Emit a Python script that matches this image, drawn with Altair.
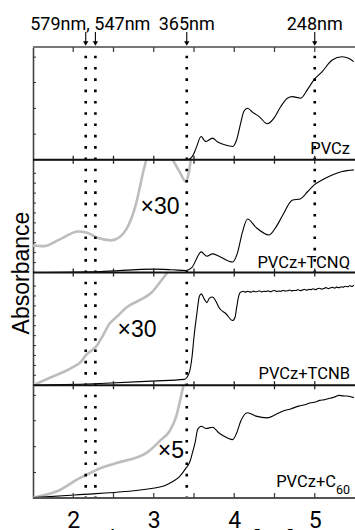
import altair as alt
import pandas as pd

# ---------------- data (photon energy in eV, absorbance normalised per panel) ----------------
pvcz_x = [1.50, 3.30, 3.42, 3.48, 3.526, 3.588, 3.63, 3.65, 3.73, 3.79, 3.89, 3.98, 4.03, 4.08, 4.12,
          4.165, 4.23, 4.31, 4.41, 4.494, 4.578, 4.66, 4.72, 4.826, 4.907, 4.99, 5.09, 5.217, 5.34, 5.42, 5.485]
pvcz_y = [0.0, 0.0, 0.0, 0.03, 0.103, 0.206, 0.17, 0.162, 0.192, 0.16, 0.13, 0.118, 0.177, 0.325, 0.43,
          0.457, 0.42, 0.383, 0.319, 0.369, 0.472, 0.546, 0.56, 0.546, 0.62, 0.708, 0.78, 0.885, 0.914, 0.9, 0.87]

tcnq_x = [1.50, 2.33, 3.01, 3.236, 3.40, 3.476, 3.526, 3.588, 3.66, 3.73, 3.81, 3.98, 4.04, 4.10, 4.165,
          4.27, 4.434, 4.516, 4.60, 4.72, 4.826, 4.907, 4.99, 5.09, 5.217, 5.34, 5.485]
tcnq_y = [0.0, 0.009, 0.03, 0.024, 0.018, 0.045, 0.114, 0.183, 0.144, 0.165, 0.144, 0.093, 0.174, 0.354, 0.475,
          0.40, 0.333, 0.40, 0.505, 0.64, 0.655, 0.714, 0.775, 0.82, 0.865, 0.895, 0.91]
# x30 curve, drawn in two pieces (it leaves the panel at the top)
tcnq30_a_x = [1.50, 1.63, 1.834, 2.06, 2.164, 2.29, 2.47, 2.577, 2.66, 2.72, 2.78, 2.824, 2.865, 2.907]
tcnq30_a_y = [0.24, 0.234, 0.294, 0.363, 0.354, 0.31, 0.285, 0.315, 0.385, 0.475, 0.61, 0.745, 0.88, 1.0]
tcnq30_b_x = [3.236, 3.32, 3.40, 3.434, 3.46]
tcnq30_b_y = [1.0, 0.895, 0.805, 0.88, 1.0]

tcnb_x = [1.50, 2.33, 2.99, 3.38, 3.44, 3.476, 3.50, 3.535, 3.567, 3.59, 3.63, 3.66, 3.69, 3.73, 3.77,
          3.81, 3.90, 3.98, 4.01, 4.03, 4.055, 4.07, 4.09, 4.11, 4.14, 4.16, 4.18, 4.21, 4.24, 4.26, 4.29,
          4.31, 4.34, 4.37, 4.39, 4.42, 4.45, 4.47, 4.50, 4.53, 4.55, 4.58, 4.61, 4.63, 4.66, 4.69, 4.71,
          4.74, 4.77, 4.79, 4.82, 4.85, 4.87, 4.90, 4.93, 4.95, 4.98, 5.01, 5.03, 5.06, 5.09, 5.11, 5.14,
          5.17, 5.19, 5.22, 5.25, 5.27, 5.30, 5.33, 5.35, 5.38, 5.41, 5.43, 5.46, 5.485]
tcnb_y = [0.0, 0.015, 0.037, 0.052, 0.11, 0.255, 0.43, 0.632, 0.79, 0.81, 0.762, 0.733, 0.771, 0.783, 0.748,
          0.69, 0.632, 0.574, 0.603, 0.69, 0.79, 0.82, 0.829, 0.834, 0.826, 0.833, 0.831, 0.825, 0.835, 0.829, 0.832,
          0.838, 0.828, 0.834, 0.831, 0.837, 0.829, 0.835, 0.84, 0.832, 0.836, 0.834, 0.843, 0.835, 0.838, 0.845, 0.837,
          0.841, 0.84, 0.849, 0.839, 0.846, 0.851, 0.843, 0.85, 0.848, 0.856, 0.847, 0.855, 0.86, 0.852, 0.858, 0.866,
          0.857, 0.862, 0.868, 0.861, 0.87, 0.866, 0.874, 0.869, 0.878, 0.873, 0.882, 0.877, 0.889]
tcnb30_x = [1.50, 1.71, 1.98, 2.10, 2.16, 2.29, 2.37, 2.45, 2.556, 2.66, 2.824, 2.97, 3.07, 3.17]
tcnb30_y = [0.0, 0.067, 0.154, 0.211, 0.27, 0.348, 0.443, 0.545, 0.617, 0.69, 0.754, 0.82, 0.907, 1.0]

c60_x = [1.50, 2.02, 2.99, 3.155, 3.236, 3.32, 3.40, 3.45, 3.48, 3.517, 3.545, 3.59, 3.65, 3.73, 3.81,
         3.917, 3.98, 4.03, 4.08, 4.165, 4.27, 4.41, 4.516, 4.60, 4.70, 4.80, 4.90, 4.95, 5.01, 5.06,
         5.12, 5.217, 5.26, 5.30, 5.35, 5.40, 5.485]
c60_y = [0.003, 0.027, 0.086, 0.116, 0.146, 0.19, 0.265, 0.324, 0.4, 0.503, 0.607, 0.637, 0.616, 0.628, 0.577,
         0.533, 0.518, 0.577, 0.681, 0.756, 0.726, 0.711, 0.741, 0.77, 0.79, 0.815, 0.832, 0.844, 0.851, 0.866,
         0.872, 0.89, 0.899, 0.91, 0.906, 0.904, 0.89]
c60x5_x = [1.50, 1.834, 2.04, 2.09, 2.164, 2.29, 2.536, 2.91, 3.03, 3.07, 3.195, 3.28, 3.34, 3.37]
c60x5_y = [0.003, 0.071, 0.16, 0.18, 0.205, 0.25, 0.31, 0.40, 0.473, 0.503, 0.592, 0.726, 0.904, 1.0]

panel_names = ["PVCz", "PVCz+TCNQ", "PVCz+TCNB", "PVCz+C"]
panel_base = [3, 2, 1, 0]            # stacking position of each panel (bottom edge)
panel_label_y = [0.053, 0.04, 0.053, 0.098]
sub_label = ["60"]
sub_label_y = [0.035]

mult_text = ["×30", "×30", "×5"]
mult_x = [3.078, 2.793, 3.214]
mult_y = [2.52, 1.43, 0.357]

x_domain = [1.5, 5.5]
y_domain = [0, 4]
x_tick_labels = [2, 3, 4, 5]
x_ticks = [2.0, 2.5, 3.0, 3.5, 4.0, 4.5, 5.0]
boundaries_inner = [1, 2, 3]
boundary_all = [0, 1, 2, 3, 4]

left_ticks = ([3.227, 3.455, 3.685, 3.91] +
              [2 + 0.088 * k for k in range(1, 11)] +
              [1 + 0.088 * k for k in range(1, 11)] +
              [0.226, 0.455, 0.685, 0.91])

line_x = [2.155, 2.275, 3.41, 5.00]     # 579 nm, 547 nm, 365 nm, 248 nm
line_top = [4, 4, 4, 4]
line_bottom = [0, 0, 0, 2]
nm_text = ["579nm, 547nm", "365nm", "248nm"]
nm_x = [2.212, 3.41, 5.00]

# ---------------- tables ----------------
def frame(xs, ys, base, seg):
    return pd.DataFrame({"x": xs, "y": [v + base for v in ys], "seg": seg})

black = pd.concat([
    frame(pvcz_x, pvcz_y, 3, "pvcz"),
    frame(tcnq_x, tcnq_y, 2, "tcnq"),
    frame(tcnb_x, tcnb_y, 1, "tcnb"),
    frame(c60_x, c60_y, 0, "c60"),
])
gray = pd.concat([
    frame(tcnq30_a_x, tcnq30_a_y, 2, "q_a"),
    frame(tcnq30_b_x, tcnq30_b_y, 2, "q_b"),
    frame(tcnb30_x, tcnb30_y, 1, "b"),
    frame(c60x5_x, c60x5_y, 0, "c"),
])

NARROW = "Roboto, sans-serif"
ARIAL = "'Liberation Sans', Arial, sans-serif"

xaxis = alt.Axis(values=x_tick_labels, format="d", ticks=False, tickSize=0, domain=False, grid=False,
                 labelFont=NARROW, labelFontSize=23, labelColor="black", labelPadding=29,
                 labelBaseline="alphabetic",
                 title="Photon Energy [eV]", titleFont=ARIAL, titleFontSize=23,
                 titleFontWeight="normal", titleColor="black", titleY=30, titleBaseline="top")
yaxis = alt.Axis(labels=False, ticks=False, tickSize=0, grid=False, domain=True,
                 domainColor="#444444", domainWidth=1.6,
                 title="Absorbance", titleFont=ARIAL, titleFontSize=23, titleFontWeight="normal",
                 titleColor="black", titlePadding=0)

xs = alt.Scale(domain=x_domain, nice=False, zero=False)
ys = alt.Scale(domain=y_domain, nice=False, zero=False)

def X(f):
    return alt.X(f, type="quantitative", scale=xs, axis=xaxis)

def Y(f):
    return alt.Y(f, type="quantitative", scale=ys, axis=yaxis)

gray_layer = alt.Chart(gray).mark_line(color="#bdbdbd", strokeWidth=2.6, interpolate="monotone").encode(
    x=X("x"), y=Y("y"), detail="seg:N")
black_layer = alt.Chart(black).mark_line(color="black", strokeWidth=1.1, interpolate="monotone").encode(
    x=X("x"), y=Y("y"), detail="seg:N")

bdf = pd.DataFrame({"b": boundary_all, "x0": [x_domain[0]] * 5, "x1": [x_domain[1]] * 5,
                    "c": ["b", "i", "i", "i", "t"]})
frame_layer = alt.Chart(bdf).mark_rule(strokeWidth=2).encode(
    x=X("x0"), x2="x1", y=Y("b"),
    color=alt.Color("c:N", scale=alt.Scale(domain=["b", "i", "t"], range=["#555555", "#111111", "#777777"]),
                    legend=None))

tick_rows = [(t, b) for b in boundaries_inner for t in x_ticks]
tdf = pd.DataFrame({"t": [r[0] for r in tick_rows], "b": [r[1] for r in tick_rows]})
inner_ticks = alt.Chart(tdf).mark_rule(color="#222222", strokeWidth=1.3, yOffset=-4, y2Offset=4).encode(
    x=X("t"), y=Y("b"), y2="b")
top_ticks = alt.Chart(pd.DataFrame({"t": x_ticks, "b": [y_domain[1]] * len(x_ticks)})).mark_rule(
    color="#444444", strokeWidth=1.3, y2Offset=5).encode(x=X("t"), y=Y("b"), y2="b")
bot_ticks = alt.Chart(pd.DataFrame({"t": x_ticks, "b": [y_domain[0]] * len(x_ticks)})).mark_rule(
    color="#444444", strokeWidth=1.3, yOffset=-5).encode(x=X("t"), y=Y("b"), y2="b")
left_tick_layer = alt.Chart(pd.DataFrame({"t": left_ticks, "x0": [x_domain[0]] * len(left_ticks)})).mark_rule(
    color="#333333", strokeWidth=1, x2Offset=3).encode(x=X("x0"), x2="x0", y=Y("t"))

ldf = pd.DataFrame({"lx": line_x, "lt": line_top, "lb": line_bottom})
dotted = alt.Chart(ldf).mark_rule(color="black", strokeWidth=2.6, strokeDash=[2.6, 8.7],
                                  strokeDashOffset=2.6, strokeCap="butt").encode(
    x=X("lx"), y=Y("lt"), y2="lb")

adf = pd.DataFrame({"lx": line_x, "lt": line_top})
arrows = alt.Chart(adf).mark_rule(color="black", strokeWidth=1.1, yOffset=-15, y2Offset=-4).encode(
    x=X("lx"), y=Y("lt"), y2="lt")
heads = alt.Chart(adf).mark_point(shape="triangle-down", filled=True, color="black", size=28,
                                  opacity=1, yOffset=-3.5).encode(x=X("lx"), y=Y("lt"))

ndf = pd.DataFrame({"nx": nm_x, "nt": nm_text, "ny": [y_domain[1]] * len(nm_x)})
nm_layer = alt.Chart(ndf).mark_text(font=NARROW, fontSize=18, align="center", baseline="alphabetic",
                                    dy=-17, color="black").encode(x=X("nx"), y=Y("ny"), text="nt:N")

pdf = pd.DataFrame({"px": [x_domain[1]] * 4, "pt": panel_names,
                    "py": [b + o for b, o in zip(panel_base, panel_label_y)]})
plabels = alt.Chart(pdf.iloc[:3]).mark_text(font=NARROW, fontSize=16.5, align="right", baseline="alphabetic",
                                            dx=-5, color="black").encode(x=X("px"), y=Y("py"), text="pt:N")
plabel_c60 = alt.Chart(pdf.iloc[3:]).mark_text(font=NARROW, fontSize=16.5, align="right", baseline="alphabetic",
                                               dx=-19, color="black").encode(x=X("px"), y=Y("py"), text="pt:N")
sdf = pd.DataFrame({"px": [x_domain[1]], "pt": sub_label, "py": [panel_base[3] + sub_label_y[0]]})
sub_layer = alt.Chart(sdf).mark_text(font=NARROW, fontSize=12.5, align="right", baseline="alphabetic",
                                     dx=-5, color="black").encode(x=X("px"), y=Y("py"), text="pt:N")

mdf = pd.DataFrame({"mx": mult_x, "my": mult_y, "mt": mult_text})
mult_layer = alt.Chart(mdf).mark_text(font=ARIAL, fontSize=23, align="center", baseline="alphabetic",
                                      color="black").encode(x=X("mx"), y=Y("my"), text="mt:N")

chart = alt.layer(
    gray_layer, black_layer, dotted, frame_layer, inner_ticks, top_ticks, bot_ticks, left_tick_layer,
    arrows, heads, nm_layer, plabels, plabel_c60, sub_layer, mult_layer
).properties(
    width=322, height=451,
    autosize=alt.AutoSizeParams(type="none"),
    padding={"left": 33, "top": 47, "right": 0, "bottom": 32},
).configure_view(stroke=None).configure(background="white")

chart.save("out.html", embed_options={"renderer": "svg", "actions": False})
